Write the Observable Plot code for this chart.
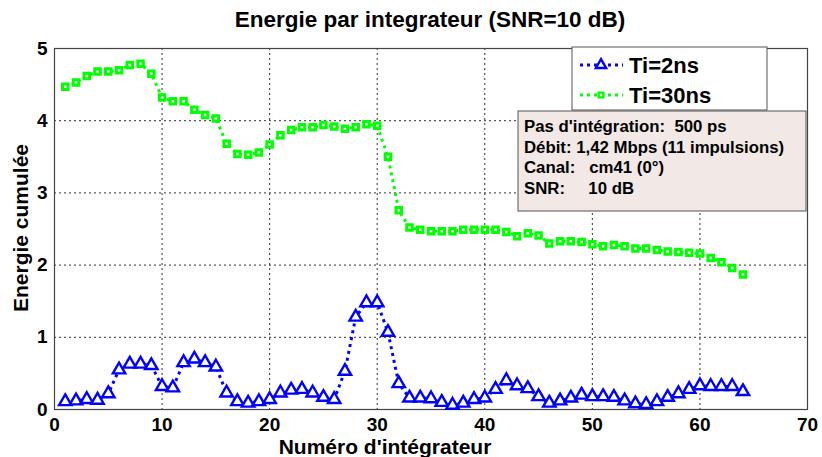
<!DOCTYPE html>
<html>
<head>
<meta charset="utf-8">
<script src="https://cdn.jsdelivr.net/npm/d3@7"></script>
<script src="https://cdn.jsdelivr.net/npm/@observablehq/plot@0.6"></script>
<style>
  html, body { margin: 0; padding: 0; background: #fff; }
  svg text { font-family: "Liberation Sans", Arial, sans-serif; }
</style>
</head>
<body>
<div id="chart"></div>
<script>
const integrator = [1,2,3,4,5,6,7,8,9,10,11,12,13,14,15,16,17,18,19,20,21,22,23,24,25,26,27,28,29,30,31,32,
  33,34,35,36,37,38,39,40,41,42,43,44,45,46,47,48,49,50,51,52,53,54,55,56,57,58,59,60,61,62,63,64];
const ti2ns = [0.11,0.12,0.14,0.13,0.22,0.55,0.63,0.63,0.61,0.32,0.30,0.65,0.70,0.65,0.59,0.23,
  0.11,0.09,0.11,0.14,0.23,0.27,0.28,0.23,0.17,0.14,0.53,1.28,1.48,1.48,1.07,0.36,
  0.16,0.16,0.15,0.10,0.06,0.09,0.14,0.16,0.28,0.40,0.33,0.29,0.18,0.09,0.12,0.16,
  0.20,0.18,0.18,0.17,0.12,0.08,0.07,0.11,0.17,0.22,0.28,0.33,0.32,0.32,0.32,0.25];
const ti30ns = [4.47,4.53,4.62,4.68,4.68,4.70,4.77,4.79,4.65,4.32,4.27,4.27,4.15,4.08,4.03,3.68,
  3.54,3.53,3.56,3.67,3.80,3.87,3.91,3.91,3.94,3.92,3.89,3.91,3.95,3.93,3.50,2.76,
  2.52,2.49,2.47,2.47,2.47,2.49,2.49,2.49,2.49,2.46,2.40,2.44,2.41,2.30,2.33,2.33,
  2.32,2.29,2.26,2.28,2.26,2.23,2.23,2.21,2.19,2.18,2.17,2.16,2.10,2.04,1.96,1.87];
const xTicks = [0,10,20,30,40,50,60,70];
const yTicks = [0,1,2,3,4,5];
const seriesNames = ["Ti=2ns", "Ti=30ns"];
const title = "Energie par integrateur (SNR=10 dB)";
const xLabel = "Numéro d'intégrateur";
const yLabel = "Energie cumulée";
const infoLines = ["Pas d'intégration:  500 ps", "Débit: 1,42 Mbps (11 impulsions)", "Canal:   cm41 (0°)", "SNR:     10 dB"];

const blue = integrator.map((x, i) => ({x, y: ti2ns[i]}));
const green = integrator.map((x, i) => ({x, y: ti30ns[i]}));

const W = 822, H = 457;
const plot = Plot.plot({
  width: W, height: H,
  marginLeft: 54, marginRight: 15, marginTop: 48, marginBottom: 48,
  style: {fontFamily: "Liberation Sans, Arial, sans-serif", fontWeight: "bold", fontSize: "18px", color: "#000", background: "#fff"},
  x: {domain: [0, 70], ticks: xTicks, tickSize: 0, tickPadding: 8, label: null},
  y: {domain: [0, 5], ticks: yTicks, tickSize: 0, tickPadding: 7, label: null},
  marks: [
    Plot.gridX(xTicks, {stroke: "#333", strokeOpacity: 1, strokeDasharray: "2,3", strokeWidth: 1}),
    Plot.gridY(yTicks, {stroke: "#333", strokeOpacity: 1, strokeDasharray: "2,3", strokeWidth: 1}),
    Plot.frame({stroke: "#444", strokeWidth: 1.2}),
    Plot.axisX({ticks: xTicks, tickSize: 0, tickPadding: 8, fontSize: 19, fontWeight: "bold", tickFormat: d3.format("d"), label: null}),
    Plot.axisY({ticks: yTicks, tickSize: 0, tickPadding: 7, fontSize: 19, fontWeight: "bold", tickFormat: d3.format("d"), label: null}),
    Plot.line(green, {x: "x", y: "y", stroke: "#00ff00", strokeWidth: 3, strokeDasharray: "3,4", strokeLinecap: "butt"}),
    Plot.dot(green, {x: "x", y: "y", symbol: "square", r: 3.1, stroke: "#00ff00", strokeWidth: 3, fill: "#fff"}),
    Plot.line(blue, {x: "x", y: "y", stroke: "#0000ff", strokeWidth: 3, strokeDasharray: "3,4", strokeLinecap: "butt"}),
    Plot.dot(blue, {x: "x", y: "y", symbol: "triangle", r: 4.6, stroke: "#0000ff", strokeWidth: 2.4, fill: "#fff"})
  ]
});
document.getElementById("chart").appendChild(plot);

const svg = d3.select(plot);
const font = "Liberation Sans, Arial, sans-serif";
// title
svg.append("text").attr("x", 430).attr("y", 27).attr("text-anchor", "middle")
  .attr("font-family", font).attr("font-weight", "bold").attr("font-size", 22.5).attr("fill", "#000").text(title);
// axis labels
svg.append("text").attr("x", 385).attr("y", 454).attr("text-anchor", "middle")
  .attr("font-family", font).attr("font-weight", "bold").attr("font-size", 21).attr("fill", "#000").text(xLabel);
svg.append("text").attr("transform", "translate(28,228) rotate(-90)").attr("text-anchor", "middle")
  .attr("font-family", font).attr("font-weight", "bold").attr("font-size", 21).attr("fill", "#000").text(yLabel);

// legend
const lg = svg.append("g");
lg.append("rect").attr("x", 572).attr("y", 47).attr("width", 195).attr("height", 63)
  .attr("fill", "#fff").attr("stroke", "#555").attr("stroke-width", 1);
const legendItems = [
  {name: seriesNames[0], color: "#0000ff", sym: d3.symbolTriangle, size: 45, y: 65},
  {name: seriesNames[1], color: "#00ff00", sym: d3.symbolSquare, size: 22, y: 95}
];
legendItems.forEach(it => {
  lg.append("line").attr("x1", 580).attr("x2", 623).attr("y1", it.y).attr("y2", it.y)
    .attr("stroke", it.color).attr("stroke-width", 3).attr("stroke-dasharray", "3,4");
  lg.append("path").attr("d", d3.symbol(it.sym, it.size)()).attr("transform", `translate(601,${it.y})`)
    .attr("fill", "#fff").attr("stroke", it.color).attr("stroke-width", 2.4);
  lg.append("text").attr("x", 629).attr("y", it.y + 8).attr("text-anchor", "start").attr("font-family", font).attr("font-weight", "bold")
    .attr("font-size", 22).attr("fill", "#000").text(it.name);
});

// info box
const ib = svg.append("g");
ib.append("rect").attr("x", 518).attr("y", 111).attr("width", 288).attr("height", 100)
  .attr("fill", "#f2e8e6").attr("stroke", "#555").attr("stroke-width", 1);
infoLines.forEach((t, i) => {
  ib.append("text").attr("x", 524).attr("y", 132 + i * 20.5).attr("text-anchor", "start").attr("font-family", font).attr("font-weight", "bold")
    .attr("font-size", 16.8).attr("fill", "#000").style("white-space", "pre").text(t);
});
</script>
</body>
</html>
